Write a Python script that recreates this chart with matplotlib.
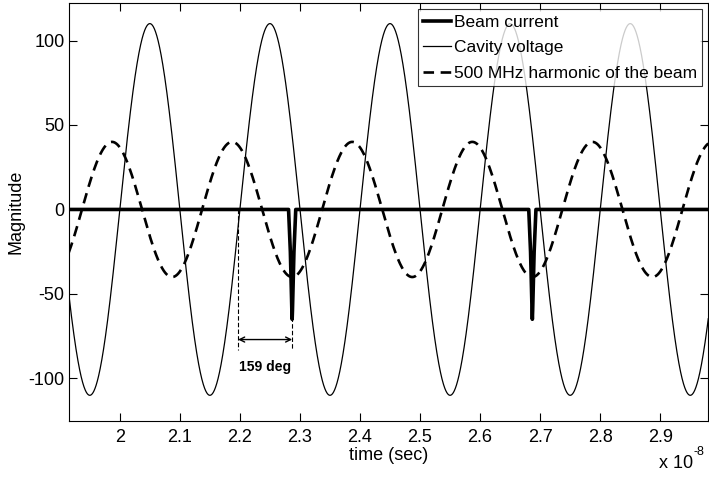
import numpy as np
import matplotlib.pyplot as plt

plt.rcParams['font.family'] = ['Liberation Sans', 'DejaVu Sans']
plt.rcParams['axes.unicode_minus'] = False

# time axis in units of 1e-8 s
t_min, t_max = 1.915, 2.98

# cavity voltage (sinusoid)
volt_amp = 110
volt_freq = 5.0        # cycles per 1e-8 s  (500 MHz)
volt_peak_t = 2.05

# 500 MHz harmonic of the beam
harm_amp = 40
harm_freq = 5.0
harm_peak_t = 1.987

# beam current: flat at zero with short pulses
beam_t = [1.915, 2.281, 2.284, 2.2865, 2.287, 2.2875, 2.290, 2.293,
          2.681, 2.684, 2.6865, 2.687, 2.6875, 2.690, 2.693, 2.98]
beam_y = [0, 0, -25, -60, -65, -60, -25, 0,
          0, -25, -60, -65, -60, -25, 0, 0]

# phase annotation
ann_t0, ann_t1 = 2.197, 2.287
ann_y = -77

t = np.linspace(t_min, t_max, 3000)
volt = volt_amp * np.cos(2 * np.pi * volt_freq * (t - volt_peak_t))
harm = harm_amp * np.cos(2 * np.pi * harm_freq * (t - harm_peak_t))

fig = plt.figure(figsize=(7.09, 4.78), dpi=100)
ax = fig.add_axes([0.097, 0.12, 0.902, 0.873])

ax.plot(beam_t, beam_y, color='black', lw=2.6, label='Beam current')
ax.plot(t, volt, color='black', lw=0.9, label='Cavity voltage')
ax.plot(t, harm, color='black', lw=1.9, ls=(0, (4, 2.5)), label='500 MHz harmonic of the beam')

# dashed guides and arrow for the phase difference
ax.plot([ann_t0, ann_t0], [0, ann_y - 6], color='black', lw=0.8, ls=(0, (4, 2)))
ax.plot([ann_t1, ann_t1], [-40, ann_y - 6], color='black', lw=0.8, ls=(0, (4, 2)))
ax.annotate('', xy=(ann_t0, ann_y), xytext=(ann_t1, ann_y),
            arrowprops=dict(arrowstyle='<->', color='black', lw=1.0, mutation_scale=9,
                            shrinkA=0, shrinkB=0))
ax.text((ann_t0 + ann_t1) / 2, ann_y - 16, '159 deg', ha='center', va='center',
        fontsize=10, fontweight='bold')

ax.set_xlim(t_min, t_max)
ax.set_ylim(-125, 122)
ax.set_xticks([2.0, 2.1, 2.2, 2.3, 2.4, 2.5, 2.6, 2.7, 2.8, 2.9])
ax.set_xticklabels(['2', '2.1', '2.2', '2.3', '2.4', '2.5', '2.6', '2.7', '2.8', '2.9'])
ax.set_yticks([-100, -50, 0, 50, 100])
ax.tick_params(direction='in', top=True, right=True, length=6, labelsize=13)
ax.tick_params(axis='x', pad=6)
ax.tick_params(axis='y', pad=3)

ax.set_xlabel('time (sec)', fontsize=13, labelpad=1)
ax.set_ylabel('Magnitude', fontsize=13, labelpad=3)
# MATLAB-style exponent label
fig.text(0.977, 0.012, 'x 10', ha='right', va='bottom', fontsize=13)
fig.text(0.978, 0.042, '-8', ha='left', va='bottom', fontsize=9)

leg = ax.legend(loc='upper right', fontsize=12.5, frameon=True, fancybox=False,
                handlelength=1.6, handletextpad=0.15, labelspacing=0.6,
                borderaxespad=0.35, borderpad=0.3)
leg.get_frame().set_edgecolor('black')
leg.get_frame().set_linewidth(0.8)

fig.savefig('out.png', dpi=100)
